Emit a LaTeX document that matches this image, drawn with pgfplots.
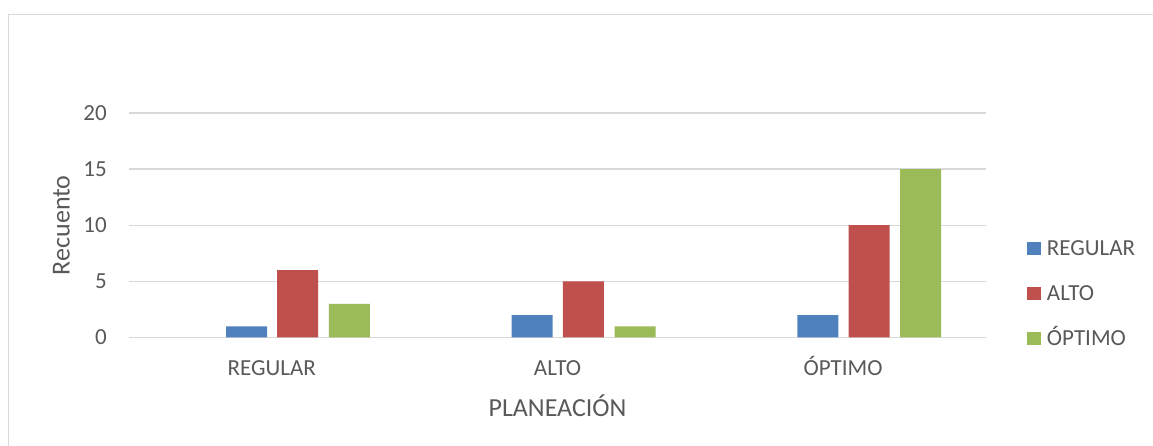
\documentclass[border=0pt]{standalone}
\usepackage{pgfplots}
\pgfplotsset{compat=1.18}
\usepackage{fontspec}
\setmainfont{Carlito}

\definecolor{serRegular}{HTML}{4F81BD}
\definecolor{serAlto}{HTML}{C0504D}
\definecolor{serOptimo}{HTML}{9BBB59}
\definecolor{txtgray}{HTML}{595959}
\definecolor{gridgray}{HTML}{D9D9D9}

\pgfplotsset{
  sqlegend/.style={legend image code/.code={\fill[##1] (0bp,-6.5bp) rectangle (14bp,6.5bp);}},
}

\begin{document}
\begin{tikzpicture}
\path[use as bounding box, clip] (0bp,0bp) rectangle (1153bp,446bp);
% chart frame
\draw[gridgray, line width=1.3bp] (8.5bp,-10bp) -- (8.5bp,431.5bp) -- (1170bp,431.5bp);
\begin{axis}[
  at={(129bp,108.5bp)}, anchor=south west,
  scale only axis, width=857bp, height=224.5bp,
  ybar, bar width=0.1435,
  xmin=-0.5, xmax=2.5, ymin=0, ymax=20,
  xtick={0,1,2}, xticklabels={REGULAR,ALTO,ÓPTIMO},
  ytick={0,5,10,15,20},
  major tick length=0pt,
  axis line style={draw=none},
  ymajorgrids, grid style={gridgray, line width=1.3bp},
  /pgf/number format/assume math mode=true,
  tick label style={font=\fontsize{23bp}{26bp}\selectfont, text=txtgray},
  xticklabel style={anchor=base, inner sep=0pt, yshift=-38.5bp},
  yticklabel style={anchor=east, inner sep=0pt, xshift=-22bp},
  xlabel={PLANEACIÓN}, ylabel={Recuento},
  label style={font=\fontsize{26bp}{30bp}\selectfont, text=txtgray},
  xlabel style={at={(axis description cs:0.5,0)}, anchor=base, inner sep=0pt, yshift=-79.3bp},
  ylabel style={at={(axis description cs:-0.0694,0.5)}, anchor=base, inner sep=0pt},
  legend cell align=left,
  legend style={at={(axis description cs:1.0478,0.4298)}, anchor=north west,
    draw=none, fill=none, inner sep=0pt, outer sep=0pt,
    row sep=31bp, column sep=6bp,
    font=\fontsize{23bp}{26bp}\selectfont, text=txtgray,
    nodes={inner sep=0pt, text height=14bp, text depth=0pt}},
]
\addplot[fill=serRegular, draw=none, bar shift=-0.0886, sqlegend]
  coordinates {(0,1) (1,2) (2,2)};
\addplot[fill=serAlto, draw=none, bar shift=0.0905, sqlegend]
  coordinates {(0,6) (1,5) (2,10)};
\addplot[fill=serOptimo, draw=none, bar shift=0.2715, sqlegend]
  coordinates {(0,3) (1,1) (2,15)};
\legend{REGULAR,ALTO,ÓPTIMO}
\end{axis}
\end{tikzpicture}
\end{document}
